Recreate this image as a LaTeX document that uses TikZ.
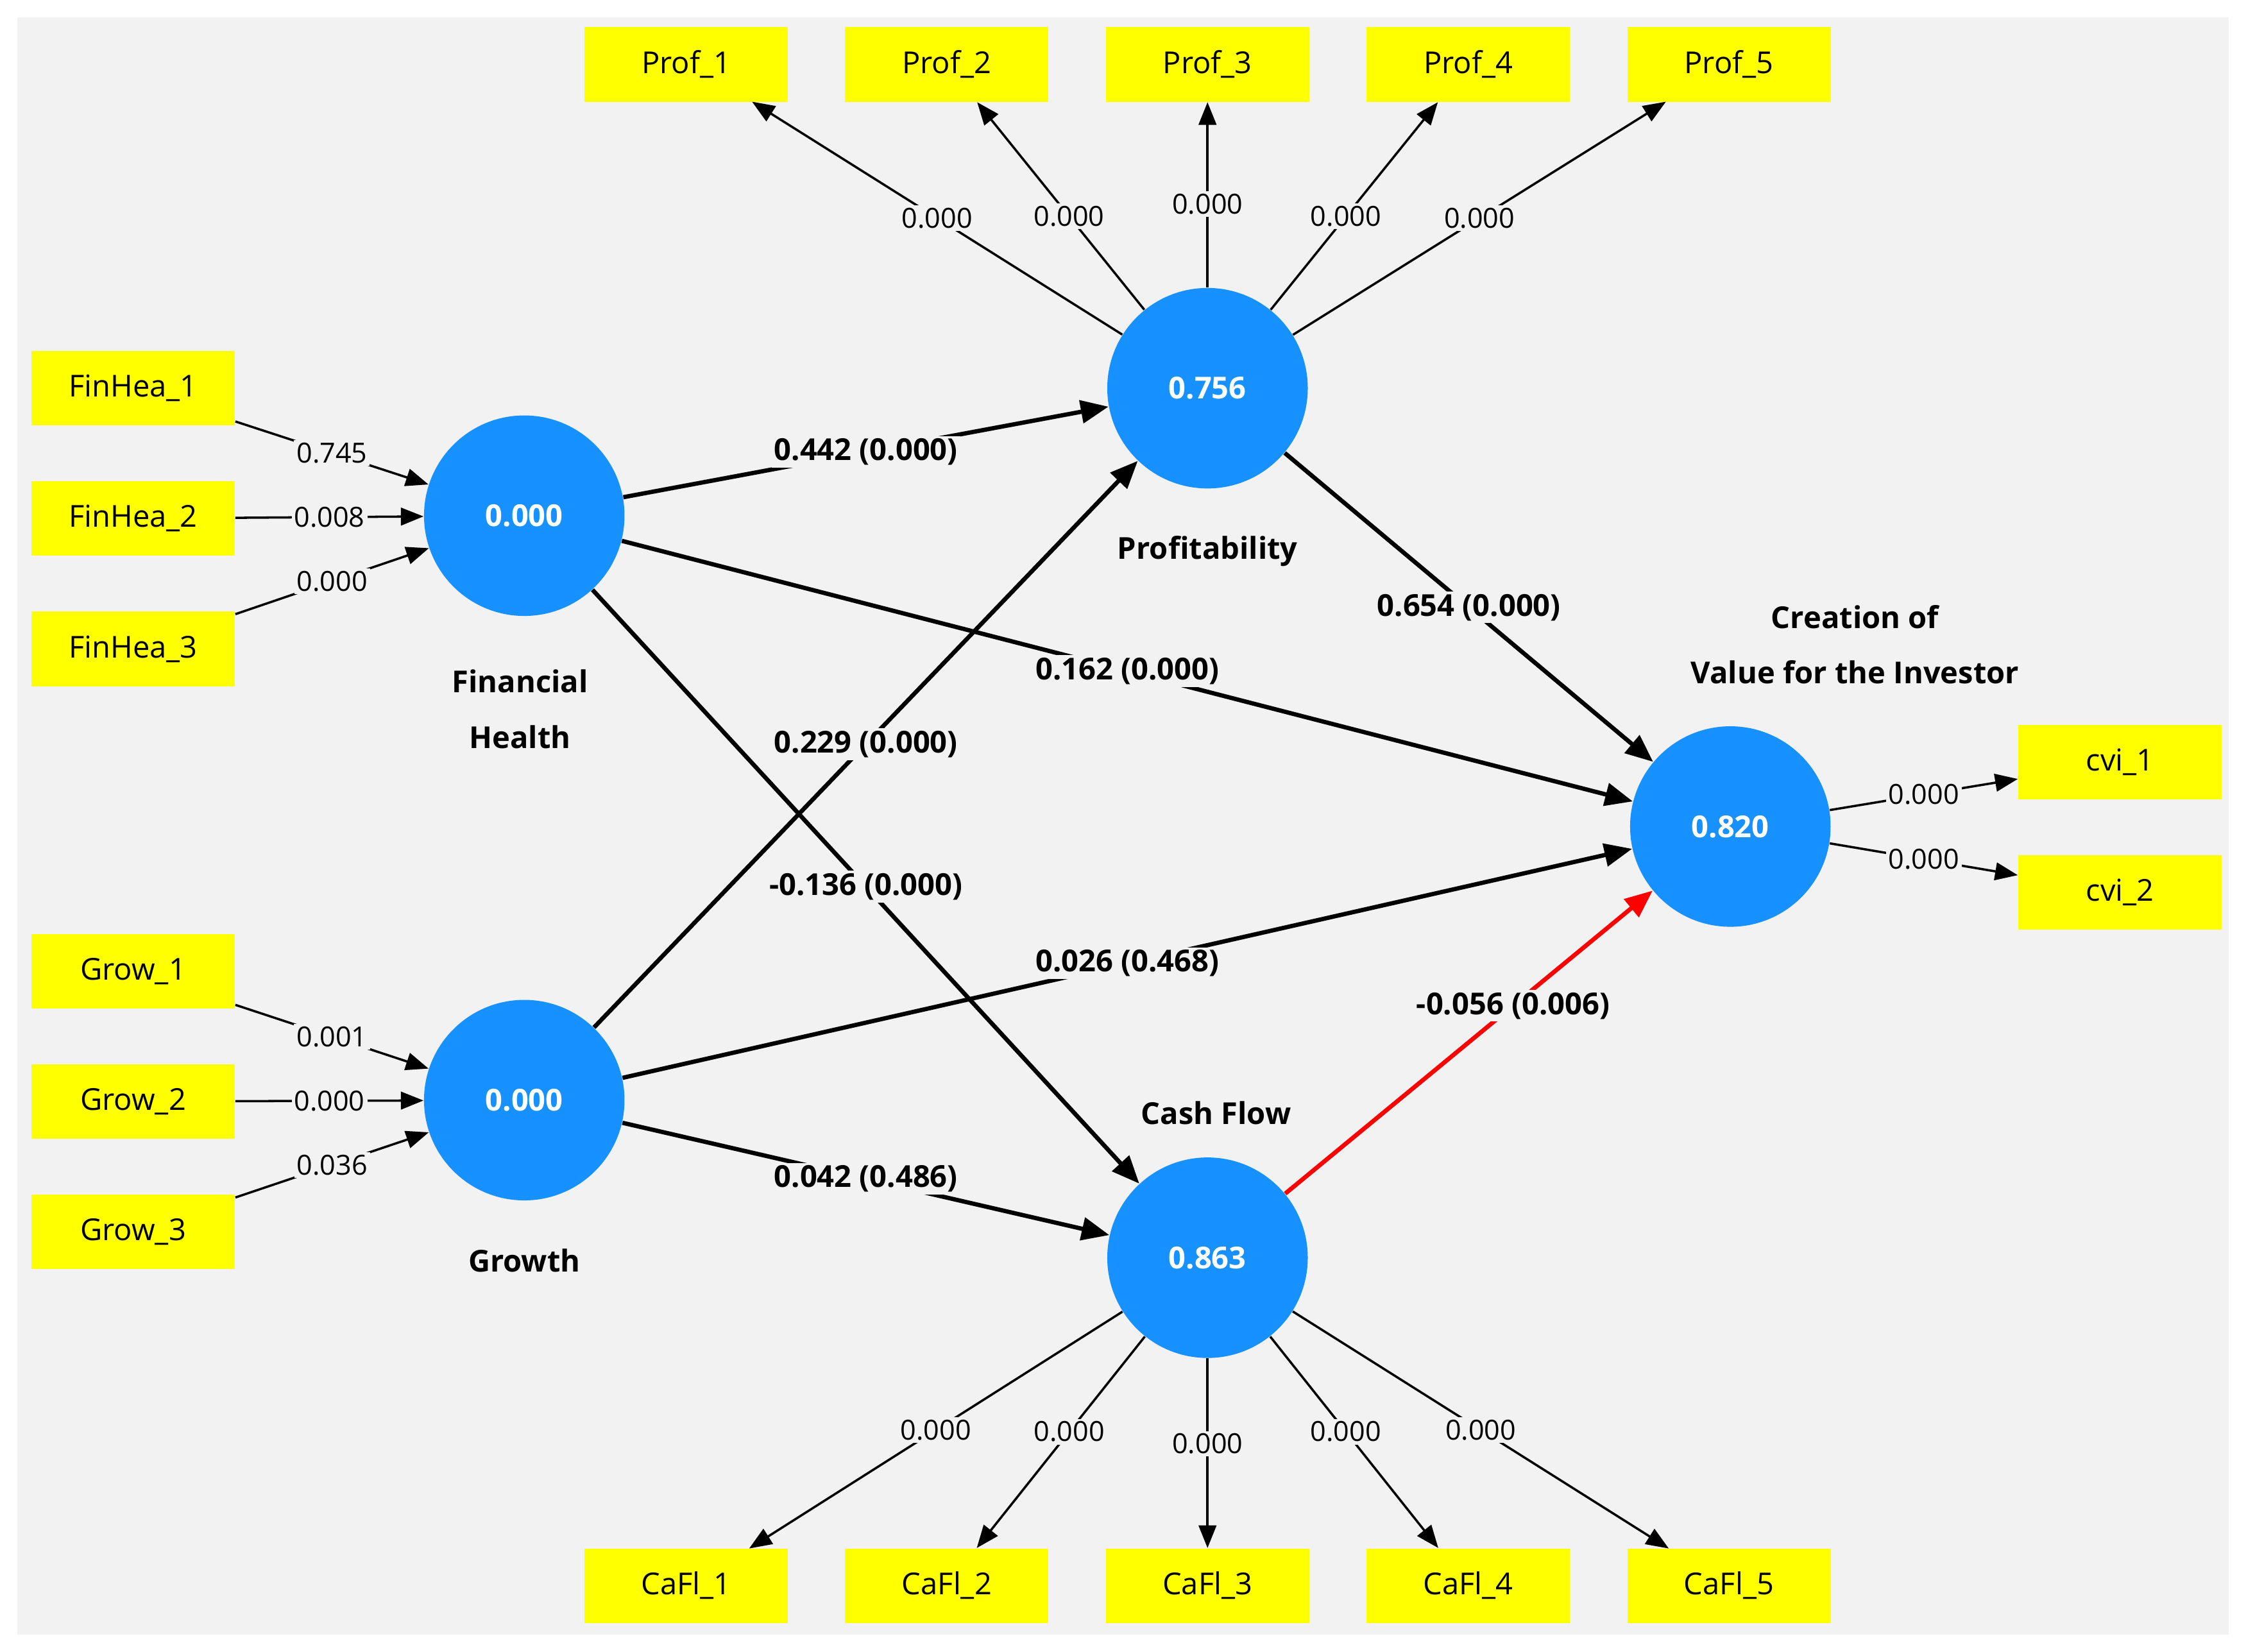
\documentclass[tikz,border=0pt]{standalone}
\usepackage{fontspec}
\setmainfont{Open Sans}
\usetikzlibrary{arrows.meta}
\definecolor{bg}{RGB}{242,242,242}
\definecolor{lv}{RGB}{22,145,255}
\definecolor{ind}{RGB}{255,255,0}
\begin{document}
\begin{tikzpicture}[x=0.02cm,y=-0.02cm,
  box/.style={fill=ind,minimum width=2.84cm,minimum height=1.04cm,inner sep=0pt,font=\fontsize{12}{14}\selectfont},
  lv/.style={circle,fill=lv,minimum size=2.8cm,inner sep=0pt,text=white,font=\bfseries\fontsize{12}{14}\selectfont},
  lvcap/.style={font=\bfseries\fontsize{12}{22}\selectfont,align=center},
  ld/.style={line width=0.9pt,-{Triangle[length=9pt,width=7pt]}},
  pth/.style={line width=1.7pt,-{Triangle[length=11pt,width=9pt]}},
  ll/.style={fill=bg,inner sep=1pt,font=\fontsize{11}{13}\selectfont},
  pl/.style={fill=bg,inner sep=1pt,font=\bfseries\fontsize{12}{14}\selectfont}]
\useasboundingbox (0,0) rectangle (1568,1153);
\fill[bg] (12,12) rectangle (1556,1141);
% latent variables
\node[lv] (P) at (843,271) {0.756};
\node[lv] (F) at (366,360) {0.000};
\node[lv] (G) at (366,768) {0.000};
\node[lv] (C) at (843,878) {0.863};
\node[lv] (V) at (1208,577) {0.820};
\node[lvcap] (tP) at (843,385) {Profitability};
\node[lvcap] (tF) at (363,495) {Financial\\Health};
\node[lvcap] (tG) at (366,880) {Growth};
\node[lvcap] (tC) at (849,777) {Cash Flow};
\node[lvcap] (tV) at (1295,450) {Creation of\\Value for the Investor};
% indicators
\foreach \i/\x in {1/479,2/661,3/843,4/1025,5/1207}{
  \node[box] (p\i) at (\x,45) {Prof\_\i};
  \node[box] (c\i) at (\x,1107) {CaFl\_\i};
}
\foreach \i/\y in {1/271,2/362,3/453}{\node[box] (f\i) at (93,\y) {FinHea\_\i};}
\foreach \i/\y in {1/678,2/769,3/860}{\node[box] (g\i) at (93,\y) {Grow\_\i};}
\node[box] (v1) at (1480,532) {cvi\_1};
\node[box] (v2) at (1480,623) {cvi\_2};
\coordinate (p1e) at (525,71);
\coordinate (p5e) at (1163,71);
\coordinate (c1e) at (523,1081);
\coordinate (c5e) at (1165,1081);
% outer loadings
\draw[ld] (P) -- node[ll,pos=0.5]{0.000} (p1e);
\draw[ld] (P) -- node[ll,pos=0.45]{0.000} (p2);
\draw[ld] (P) -- node[ll,pos=0.45]{0.000} (p3);
\draw[ld] (P) -- node[ll,pos=0.45]{0.000} (p4);
\draw[ld] (P) -- node[ll,pos=0.5]{0.000} (p5e);
\draw[ld] (C) -- node[ll,pos=0.5]{0.000} (c1e);
\draw[ld] (C) -- node[ll,pos=0.45]{0.000} (c2);
\draw[ld] (C) -- node[ll,pos=0.45]{0.000} (c3);
\draw[ld] (C) -- node[ll,pos=0.45]{0.000} (c4);
\draw[ld] (C) -- node[ll,pos=0.5]{0.000} (c5e);
\draw[ld] (f1) -- node[ll,pos=0.5]{0.745} (F);
\draw[ld] (f2) -- node[ll,pos=0.5]{0.008} (F);
\draw[ld] (f3) -- node[ll,pos=0.5]{0.000} (F);
\draw[ld] (g1) -- node[ll,pos=0.5]{0.001} (G);
\draw[ld] (g2) -- node[ll,pos=0.5]{0.000} (G);
\draw[ld] (g3) -- node[ll,pos=0.5]{0.036} (G);
\draw[ld] (V) -- node[ll,pos=0.5]{0.000} (v1);
\draw[ld] (V) -- node[ll,pos=0.5]{0.000} (v2);
% structural paths
\draw[pth] (F) -- node[pl]{0.442 (0.000)} (P);
\draw[pth] (F) -- node[pl]{0.162 (0.000)} (V);
\draw[pth] (F) -- node[pl]{-0.136 (0.000)} (C);
\draw[pth] (G) -- node[pl]{0.229 (0.000)} (P);
\draw[pth] (G) -- node[pl]{0.026 (0.468)} (V);
\draw[pth] (G) -- node[pl]{0.042 (0.486)} (C);
\draw[pth] (P) -- node[pl]{0.654 (0.000)} (V);
\draw[pth,red] (C) -- node[pl,text=black,pos=0.62]{-0.056 (0.006)} (V);
\end{tikzpicture}
\end{document}
